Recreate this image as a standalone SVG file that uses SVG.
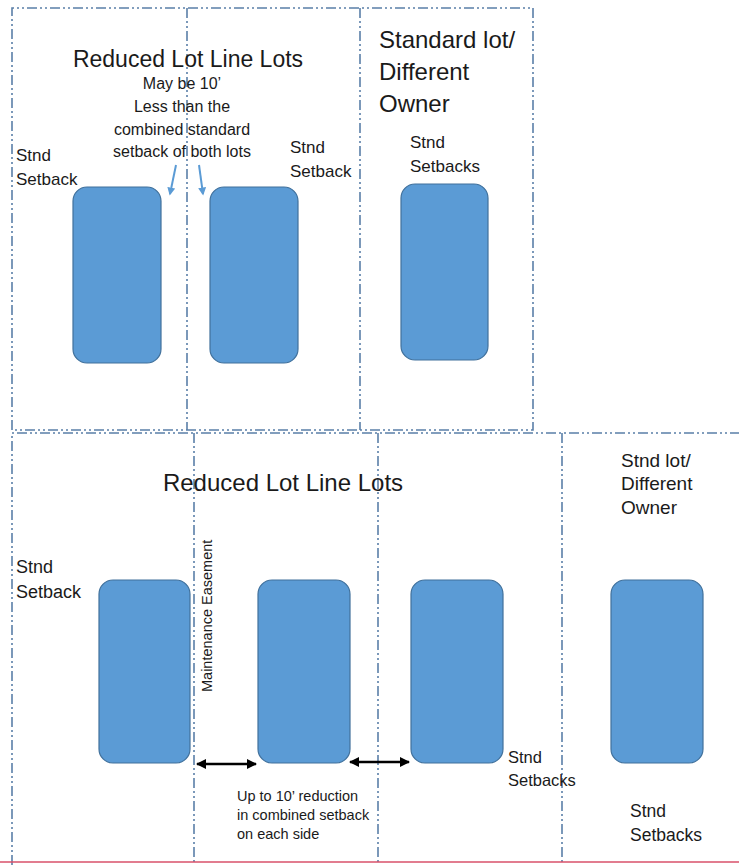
<svg xmlns="http://www.w3.org/2000/svg" width="739" height="865" viewBox="0 0 739 865">
<style>
.lot{fill:none;stroke:#5a7fa8;stroke-width:1.6;stroke-dasharray:10 3 2 3 2 3}
.bldg{fill:#5b9bd5;stroke:#41719c;stroke-width:1.2}
text{font-family:"Liberation Sans",Arial,sans-serif;fill:#1a1a1a}
.blue{stroke:#5b9bd5;stroke-width:2;fill:none}
.dbl{stroke:#000;stroke-width:2.5;fill:none}
</style>
<defs>
<marker id="ba" viewBox="0 0 10 10" refX="8" refY="5" markerWidth="4" markerHeight="4" orient="auto"><path d="M0,0 L10,5 L0,10 z" fill="#5b9bd5"/></marker>
<marker id="bk" viewBox="0 0 10 10" refX="9" refY="5" markerWidth="4.5" markerHeight="4" orient="auto-start-reverse"><path d="M0,0 L10,5 L0,10 z" fill="#000"/></marker>
</defs>
<rect width="739" height="865" fill="#fff"/>
<g id="lot-lines">
<path class="lot" d="M12,430 V8 H533 V430 H12"/>
<path class="lot" d="M187,8 V430"/>
<path class="lot" d="M360,8 V430"/>
<path class="lot" d="M12,865 V433 H739"/>
<path class="lot" d="M194,433 V865"/>
<path class="lot" d="M378,433 V865"/>
<path class="lot" d="M562,433 V865"/>
<line x1="0" y1="862" x2="739" y2="862" stroke="#d8506a" stroke-width="1.5"/>
</g>
<g id="top-building-1"><rect class="bldg" x="73" y="187" width="88" height="176" rx="14"/></g>
<g id="top-building-2"><rect class="bldg" x="210" y="187" width="88" height="176" rx="14"/></g>
<g id="top-building-3"><rect class="bldg" x="401" y="184" width="87" height="176" rx="14"/></g>
<g id="bottom-building-1"><rect class="bldg" x="99" y="580" width="91" height="183" rx="14"/></g>
<g id="bottom-building-2"><rect class="bldg" x="258" y="580" width="92" height="183" rx="14"/></g>
<g id="bottom-building-3"><rect class="bldg" x="411" y="580" width="92" height="183" rx="14"/></g>
<g id="bottom-building-4"><rect class="bldg" x="611" y="580" width="92" height="183" rx="14"/></g>
<g id="connectors">
<line class="blue" x1="176" y1="165" x2="170" y2="194" marker-end="url(#ba)"/>
<line class="blue" x1="199" y1="165" x2="203" y2="194" marker-end="url(#ba)"/>
<line class="dbl" x1="197" y1="764" x2="256" y2="764" marker-start="url(#bk)" marker-end="url(#bk)"/>
<line class="dbl" x1="350" y1="762" x2="409" y2="762" marker-start="url(#bk)" marker-end="url(#bk)"/>
</g>
<g id="labels-top">
<text x="188" y="67" font-size="23" text-anchor="middle">Reduced Lot Line Lots</text>
<text font-size="16" text-anchor="middle"><tspan x="182" y="89">May be 10’</tspan><tspan x="182" y="112">Less than the</tspan><tspan x="182" y="135">combined standard</tspan><tspan x="182" y="157">setback of both lots</tspan></text>
<text font-size="17"><tspan x="16" y="161">Stnd</tspan><tspan x="16" y="185">Setback</tspan></text>
<text font-size="17"><tspan x="290" y="153">Stnd</tspan><tspan x="290" y="177">Setback</tspan></text>
<text font-size="24"><tspan x="379" y="48">Standard lot/</tspan><tspan x="379" y="80">Different</tspan><tspan x="379" y="112">Owner</tspan></text>
<text font-size="17"><tspan x="410" y="148">Stnd</tspan><tspan x="410" y="172">Setbacks</tspan></text>
</g>
<g id="labels-bottom">
<text x="283" y="491" font-size="24" text-anchor="middle">Reduced Lot Line Lots</text>
<text font-size="19"><tspan x="621" y="467">Stnd lot/</tspan><tspan x="621" y="490">Different</tspan><tspan x="621" y="514">Owner</tspan></text>
<text font-size="18"><tspan x="16" y="573">Stnd</tspan><tspan x="16" y="598">Setback</tspan></text>
<text font-size="14.5" transform="translate(212,692) rotate(-90)">Maintenance Easement</text>
<text font-size="14.5"><tspan x="237" y="801">Up to 10’ reduction</tspan><tspan x="237" y="820">in combined setback</tspan><tspan x="237" y="839">on each side</tspan></text>
<text font-size="16.5"><tspan x="508" y="763">Stnd</tspan><tspan x="508" y="786">Setbacks</tspan></text>
<text font-size="17.5"><tspan x="630" y="817">Stnd</tspan><tspan x="630" y="841">Setbacks</tspan></text>
</g>
</svg>
